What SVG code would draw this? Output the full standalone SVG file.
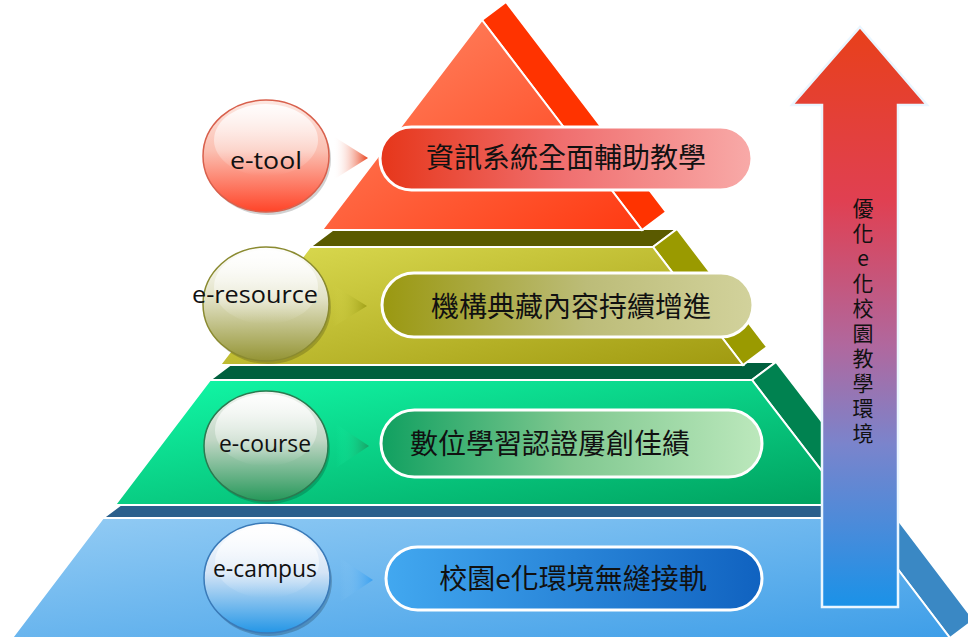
<svg xmlns="http://www.w3.org/2000/svg" width="968" height="641" viewBox="0 0 968 641">
<defs>
<linearGradient id="fRed" x1="0" y1="0" x2="1" y2="1"><stop offset="0" stop-color="#ff8a68"/><stop offset="1" stop-color="#ff3a12"/></linearGradient>
<linearGradient id="fOlive" x1="0" y1="0" x2="1" y2="1"><stop offset="0" stop-color="#dcdc52"/><stop offset="1" stop-color="#a09a10"/></linearGradient>
<linearGradient id="fGreen" x1="0" y1="0" x2="1" y2="1"><stop offset="0" stop-color="#12faa8"/><stop offset="1" stop-color="#00a05e"/></linearGradient>
<linearGradient id="fBlue" x1="0" y1="0" x2="1" y2="1"><stop offset="0" stop-color="#94ccf4"/><stop offset="1" stop-color="#3e9ee8"/></linearGradient>
<linearGradient id="pRed" x1="0" y1="0" x2="1" y2="0"><stop offset="0" stop-color="#e6361a"/><stop offset="0.5" stop-color="#f07070"/><stop offset="1" stop-color="#f8aaa8"/></linearGradient>
<linearGradient id="pOlive" x1="0" y1="0" x2="1" y2="0"><stop offset="0" stop-color="#9a9810"/><stop offset="0.55" stop-color="#bcbc78"/><stop offset="1" stop-color="#d2d29c"/></linearGradient>
<linearGradient id="pGreen" x1="0" y1="0" x2="1" y2="0"><stop offset="0" stop-color="#10a060"/><stop offset="0.5" stop-color="#80c890"/><stop offset="1" stop-color="#bce8bc"/></linearGradient>
<linearGradient id="pBlue" x1="0" y1="0" x2="1" y2="0"><stop offset="0" stop-color="#42a8f0"/><stop offset="1" stop-color="#1062c0"/></linearGradient>
<linearGradient id="cRed" x1="0" y1="0" x2="0" y2="1"><stop offset="0" stop-color="#fde8e2"/><stop offset="0.45" stop-color="#fbc0b2"/><stop offset="1" stop-color="#ff4428"/></linearGradient>
<linearGradient id="cOlive" x1="0" y1="0" x2="0" y2="1"><stop offset="0" stop-color="#ffffff"/><stop offset="0.45" stop-color="#e2e2c6"/><stop offset="1" stop-color="#949434"/></linearGradient>
<linearGradient id="cGreen" x1="0" y1="0" x2="0" y2="1"><stop offset="0" stop-color="#f2f4f0"/><stop offset="0.45" stop-color="#c0d6c4"/><stop offset="1" stop-color="#26985a"/></linearGradient>
<linearGradient id="cBlue" x1="0" y1="0" x2="0" y2="1"><stop offset="0" stop-color="#ffffff"/><stop offset="0.45" stop-color="#d4e4f6"/><stop offset="1" stop-color="#2496e6"/></linearGradient>
<linearGradient id="hl" x1="0" y1="0" x2="0" y2="1"><stop offset="0" stop-color="#ffffff" stop-opacity="0.9"/><stop offset="1" stop-color="#ffffff" stop-opacity="0"/></linearGradient>
<linearGradient id="aRed" x1="0" y1="0" x2="1" y2="0"><stop offset="0" stop-color="#ffffff" stop-opacity="0"/><stop offset="1" stop-color="#e8401a"/></linearGradient>
<linearGradient id="aOlive" x1="0" y1="0" x2="1" y2="0"><stop offset="0" stop-color="#dcdc52" stop-opacity="0"/><stop offset="1" stop-color="#a0a018"/></linearGradient>
<linearGradient id="aGreen" x1="0" y1="0" x2="1" y2="0"><stop offset="0" stop-color="#12faa8" stop-opacity="0"/><stop offset="1" stop-color="#18a064"/></linearGradient>
<linearGradient id="aBlue" x1="0" y1="0" x2="1" y2="0"><stop offset="0" stop-color="#94ccf4" stop-opacity="0"/><stop offset="1" stop-color="#3aa0f0"/></linearGradient>
<linearGradient id="bigArrow" x1="0" y1="0" x2="0" y2="1"><stop offset="0" stop-color="#e8401a"/><stop offset="0.3" stop-color="#e04052"/><stop offset="0.55" stop-color="#b0689e"/><stop offset="0.72" stop-color="#7a84cc"/><stop offset="1" stop-color="#1a92e8"/></linearGradient>
</defs>
<style>
.face{stroke:#ffffff;stroke-width:2;stroke-linejoin:miter}
.pill{stroke:#ffffff;stroke-width:3}
.ring{stroke-width:1.5}
.lbl{font-family:"Open Sans","DejaVu Sans",sans-serif;font-size:24px;fill:#111111;text-anchor:middle}
.cjk{font-family:"Noto Sans CJK TC",sans-serif;font-size:28px;fill:#111111;text-anchor:middle}
.vt{font-family:"Noto Sans CJK TC",sans-serif;font-size:21px;fill:#111111;writing-mode:vertical-rl;text-orientation:upright;letter-spacing:4px}
</style>

<!-- pyramid body, bottom to top -->
<g id="level-campus">
<polygon class="face" points="103,518 859,518 883,500 127,500" fill="#2a5f8c"/>
<polygon class="face" points="859,518 950,638 974,620 883,500" fill="#3a88c4"/>
<polygon class="face" points="103,518 859,518 950,638 12,638" fill="url(#fBlue)"/>
</g>
<g id="level-course">
<polygon class="face" points="210,380 752,380 776,362 234,362" fill="#00603e"/>
<polygon class="face" points="752,380 848,505 872,487 776,362" fill="#008250"/>
<polygon class="face" points="210,380 752,380 848,505 115,505" fill="url(#fGreen)"/>
</g>
<g id="level-resource">
<polygon class="face" points="310,247 653,247 677,229 334,229" fill="#5a5a00"/>
<polygon class="face" points="653,247 743,365 767,347 677,229" fill="#9a9a00"/>
<polygon class="face" points="310,247 653,247 743,365 220,365" fill="url(#fOlive)"/>
</g>
<g id="level-tool">
<polygon class="face" points="482,20 642,230 666,212 506,2" fill="#ff3300"/>
<polygon class="face" points="482,20 642,230 322,230" fill="url(#fRed)"/>
</g>

<!-- connectors -->
<g id="connectors">
<polygon points="333,136 368,158 333,180" fill="url(#aRed)"/>
<polygon points="333,285 367,306 333,327" fill="url(#aOlive)"/>
<polygon points="336,424 369,446 336,468" fill="url(#aGreen)"/>
<polygon points="340,558 373,580 340,602" fill="url(#aBlue)"/>
</g>

<!-- nodes -->
<g id="node-etool">
<ellipse cx="268" cy="159" rx="63" ry="56" fill="#000000" opacity="0.18"/>
<ellipse class="ring" cx="266" cy="156" rx="63" ry="56" fill="url(#cRed)" stroke="#d8604c"/>
<ellipse cx="266" cy="140" rx="52" ry="36" fill="url(#hl)"/>
<text class="lbl" x="266" y="169" textLength="72" lengthAdjust="spacingAndGlyphs">e-tool</text>
</g>
<g id="pill-tool">
<rect class="pill" x="380" y="127" width="372" height="63" rx="31.5" fill="url(#pRed)"/>
<text class="cjk" x="566" y="168">資訊系統全面輔助教學</text>
</g>

<g id="node-eresource">
<ellipse cx="268" cy="307" rx="63" ry="57" fill="#000000" opacity="0.18"/>
<ellipse class="ring" cx="266" cy="304" rx="63" ry="57" fill="url(#cOlive)" stroke="#8a8a30"/>
<ellipse cx="266" cy="287" rx="52" ry="37" fill="url(#hl)"/>
<text class="lbl" x="255" y="303" textLength="126" lengthAdjust="spacingAndGlyphs">e-resource</text>
</g>
<g id="pill-resource">
<rect class="pill" x="382" y="273" width="371" height="64" rx="32" fill="url(#pOlive)"/>
<text class="cjk" x="571" y="317">機構典藏內容持續增進</text>
</g>

<g id="node-ecourse">
<ellipse cx="268" cy="449" rx="62" ry="55" fill="#000000" opacity="0.18"/>
<ellipse class="ring" cx="266" cy="446" rx="62" ry="55" fill="url(#cGreen)" stroke="#2a7a50"/>
<ellipse cx="266" cy="430" rx="51" ry="36" fill="url(#hl)"/>
<text class="lbl" x="265" y="452" font-size="22" textLength="92" lengthAdjust="spacingAndGlyphs">e-course</text>
</g>
<g id="pill-course">
<rect class="pill" x="381" y="410" width="381" height="67" rx="33.5" fill="url(#pGreen)"/>
<text class="cjk" x="550" y="454">數位學習認證屢創佳績</text>
</g>

<g id="node-ecampus">
<ellipse cx="269" cy="581" rx="63" ry="55" fill="#000000" opacity="0.2"/>
<ellipse class="ring" cx="267" cy="578" rx="63" ry="55" fill="url(#cBlue)" stroke="#3a7ab8"/>
<ellipse cx="267" cy="562" rx="52" ry="36" fill="url(#hl)"/>
<text class="lbl" x="265" y="577" font-size="22" textLength="104" lengthAdjust="spacingAndGlyphs">e-campus</text>
</g>
<g id="pill-campus">
<rect class="pill" x="386" y="547" width="376" height="63" rx="31.5" fill="url(#pBlue)"/>
<text class="cjk" x="573" y="589">校園e化環境無縫接軌</text>
</g>

<!-- big upward arrow -->
<g id="optimize-arrow">
<polygon points="860,27 927,105 898,105 898,607 822,607 822,105 792,105" fill="url(#bigArrow)" stroke="#eaf6ff" stroke-width="2.5" stroke-linejoin="miter"/>
<text class="vt" x="863" y="198">優化e化校園教學環境</text>
</g>
</svg>
